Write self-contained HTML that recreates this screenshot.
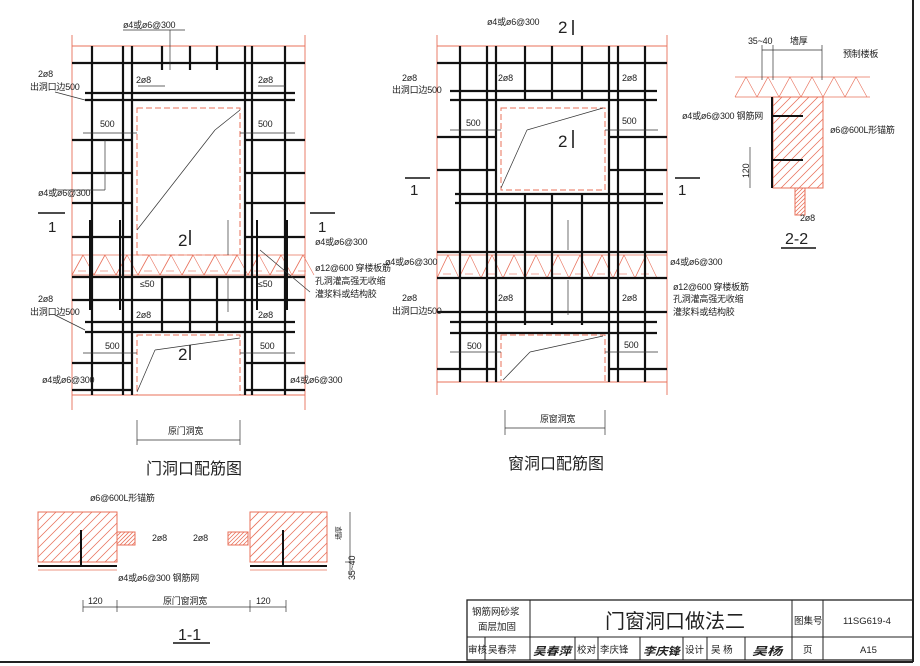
<!DOCTYPE html>
<html><head><meta charset="utf-8"><style>
html,body{margin:0;padding:0;background:#fff;}
svg{display:block;}
text{font-family:"Liberation Sans","Noto Sans CJK SC",sans-serif;fill:#222;}
.s{font-size:9px;letter-spacing:-0.2px;}
</style></head><body>
<svg id="d" width="920" height="666" viewBox="0 0 920 666" xmlns="http://www.w3.org/2000/svg">
<rect width="920" height="666" fill="#fff"/>
<g id="g"></g>
<g class="s">
<text x="123" y="28">ø4或ø6@300</text>
<text x="38" y="77">2ø8</text><text x="30" y="90">出洞口边500</text>
<text x="136" y="83">2ø8</text><text x="258" y="83">2ø8</text>
<text x="100" y="127">500</text><text x="258" y="127">500</text>
<text x="38" y="196">ø4或ø6@300</text>
<text x="315" y="245">ø4或ø6@300</text>
<text x="315" y="271">ø12@600 穿楼板筋</text>
<text x="315" y="284">孔洞灌高强无收缩</text>
<text x="315" y="297">灌浆料或结构胶</text>
<text x="140" y="287">≤50</text><text x="258" y="287">≤50</text>
<text x="38" y="302">2ø8</text><text x="30" y="315">出洞口边500</text>
<text x="136" y="318">2ø8</text><text x="258" y="318">2ø8</text>
<text x="105" y="349">500</text><text x="260" y="349">500</text>
<text x="42" y="383">ø4或ø6@300</text><text x="290" y="383">ø4或ø6@300</text>
<text x="168" y="434">原门洞宽</text>
</g>
<text x="146" y="474" style="font-size:16px">门洞口配筋图</text>
<text x="48" y="232" style="font-size:15px">1</text><text x="318" y="232" style="font-size:15px">1</text>
<text x="178" y="246" style="font-size:17px">2</text><text x="178" y="360" style="font-size:17px">2</text>
<g class="s">
<text x="487" y="25">ø4或ø6@300</text>
<text x="402" y="81">2ø8</text><text x="392" y="93">出洞口边500</text>
<text x="498" y="81">2ø8</text><text x="622" y="81">2ø8</text>
<text x="466" y="126">500</text><text x="622" y="124">500</text>
<text x="385" y="265">ø4或ø6@300</text><text x="670" y="265">ø4或ø6@300</text>
<text x="673" y="290">ø12@600 穿楼板筋</text>
<text x="673" y="302">孔洞灌高强无收缩</text>
<text x="673" y="315">灌浆料或结构胶</text>
<text x="402" y="301">2ø8</text><text x="392" y="314">出洞口边500</text>
<text x="498" y="301">2ø8</text><text x="622" y="301">2ø8</text>
<text x="467" y="349">500</text><text x="624" y="348">500</text>
<text x="540" y="422">原窗洞宽</text>
</g>
<text x="508" y="469" style="font-size:16px">窗洞口配筋图</text>
<text x="410" y="195" style="font-size:15px">1</text><text x="678" y="195" style="font-size:15px">1</text>
<text x="558" y="33" style="font-size:17px">2</text><text x="558" y="147" style="font-size:17px">2</text>
<g class="s">
<text x="748" y="44">35~40</text><text x="790" y="44">墙厚</text>
<text x="843" y="57">预制楼板</text>
<text x="682" y="119">ø4或ø6@300 钢筋网</text>
<text x="830" y="133">ø6@600L形锚筋</text>
<text x="800" y="221">2ø8</text>
<text x="0" y="0" transform="translate(749,178) rotate(-90)">120</text>
</g>
<text x="785" y="244" style="font-size:16px">2-2</text>
<g class="s">
<text x="90" y="501">ø6@600L形锚筋</text>
<text x="152" y="541">2ø8</text><text x="193" y="541">2ø8</text>
<text x="118" y="581">ø4或ø6@300 钢筋网</text>
<text x="88" y="604">120</text><text x="163" y="604">原门窗洞宽</text><text x="256" y="604">120</text>
<text x="0" y="0" transform="translate(355,580) rotate(-90)">35~40</text>
<text x="0" y="0" transform="translate(341,540) rotate(-90)" style="font-size:7px">墙厚</text>
</g>
<text x="178" y="640" style="font-size:16px">1-1</text>
<g stroke="#222" fill="none">
<rect x="467" y="600" width="446" height="60" stroke-width="1.3"/>
<line x1="467" y1="637" x2="913" y2="637"/>
<line x1="530" y1="600" x2="530" y2="660"/>
<line x1="792" y1="600" x2="792" y2="660"/>
<line x1="823" y1="600" x2="823" y2="660"/>
<line x1="485" y1="637" x2="485" y2="660"/>
<line x1="575" y1="637" x2="575" y2="660"/>
<line x1="598" y1="637" x2="598" y2="660"/>
<line x1="640" y1="637" x2="640" y2="660"/>
<line x1="683" y1="637" x2="683" y2="660"/>
<line x1="707" y1="637" x2="707" y2="660"/>
<line x1="745" y1="637" x2="745" y2="660"/>
<line x1="913" y1="0" x2="913" y2="662" stroke-width="2"/>
<line x1="0" y1="662" x2="913" y2="662" stroke-width="2"/>
</g>
<g style="font-size:9.5px">
<text x="472" y="615">钢筋网砂浆</text><text x="478" y="630">面层加固</text>
<text x="794" y="624">图集号</text><text x="843" y="624">11SG619-4</text>
<text x="468" y="653">审核</text><text x="488" y="653">吴春萍</text>
<text x="577" y="653">校对</text><text x="600" y="653">李庆锋</text>
<text x="685" y="653">设计</text><text x="711" y="653">吴 杨</text>
<text x="803" y="653">页</text><text x="860" y="653">A15</text>
</g>
<text x="605" y="628" style="font-size:20px">门窗洞口做法二</text>
<g style="font-size:11px;font-weight:bold;font-style:italic">
<text x="533" y="655" textLength="38" lengthAdjust="spacingAndGlyphs">吴春萍</text>
<text x="643" y="655" textLength="37" lengthAdjust="spacingAndGlyphs">李庆锋</text>
<text x="752" y="655" textLength="30" lengthAdjust="spacingAndGlyphs">吴杨</text>
</g>
</svg>
<script>
var g=document.getElementById('g'),NS='http://www.w3.org/2000/svg';
function L(x1,y1,x2,y2,c,w,da){var e=document.createElementNS(NS,'line');e.setAttribute('x1',x1);e.setAttribute('y1',y1);e.setAttribute('x2',x2);e.setAttribute('y2',y2);e.setAttribute('stroke',c||'#111');e.setAttribute('stroke-width',w||2.2);if(da)e.setAttribute('stroke-dasharray',da);g.appendChild(e);}
function R(x,y,w,h,f,s){var e=document.createElementNS(NS,'rect');e.setAttribute('x',x);e.setAttribute('y',y);e.setAttribute('width',w);e.setAttribute('height',h);e.setAttribute('fill',f||'none');e.setAttribute('stroke',s||'none');g.appendChild(e);}
var red='#e8705a';
function hatch(x1,y1,x2,y2,step){for(var x=x1-(y2-y1);x<x2;x+=step){var a=Math.max(x,x1),ya=y2-(a-x);var b=Math.min(x+(y2-y1),x2),yb=y2-(b-x);if(b>a)L(a,ya,b,yb,red,0.8);}}
function band(x1,x2,y1,y2){L(x1,y1,x2,y1,red,0.8);L(x1,y2,x2,y2,red,0.8);for(var x=x1;x<x2-10;x+=22){L(x,y2,x+11,y1,red,0.8);L(x+11,y1,x+22,y2,red,0.6);L(x+6,y2-4,x+14,y2-4,red,0.6);}}
function thin(a,b,c,d){L(a,b,c,d,'#333',0.7);}
L(72,46,305,46,red,0.9);L(72,395,305,395,red,0.9);L(72,35,72,410,red,0.9);L(305,35,305,410,red,0.9);
R(137,108,103,147,'none',red);g.lastChild.setAttribute('stroke-dasharray','6,3');
R(137,335,103,60,'none',red);g.lastChild.setAttribute('stroke-dasharray','6,3');
band(72,305,255,275);
[92,123,132,245,252,285].forEach(function(x){L(x,46,x,395);});
[162,190,217].forEach(function(x){L(x,46,x,70);L(x,277,x,332);});
L(72,63,305,63);L(85,93,295,93);L(85,100,295,100);
[140,173,203,237,363,390].forEach(function(y){L(72,y,132,y);L(245,y,305,y);});
L(72,277,305,277);L(72,300,305,300);L(85,322,295,322);L(85,332,295,332);
L(90,220,90,310,'#111',2);L(120,220,120,310,'#111',2);L(257,220,257,310,'#111',2);L(287,220,287,310,'#111',2);
thin(137,230,215,130);thin(215,130,240,110);thin(137,392,155,350);thin(155,350,240,338);
thin(52,190,105,190);thin(105,190,105,140);thin(170,30,170,70);thin(123,30,185,30);
thin(137,440,240,440);thin(137,420,137,445);thin(240,420,240,445);
L(38,213,65,213,'#111',1.5);L(310,213,335,213,'#111',1.5);L(190,230,190,245,'#111',1.5);L(190,345,190,360,'#111',1.5);
thin(83,133,137,133);thin(240,133,295,133);thin(83,353,137,353);thin(240,353,295,353);
thin(228,220,228,255);thin(228,278,228,312);thin(260,250,310,292);
thin(55,92,85,100);thin(55,315,85,330);thin(138,86,165,86);thin(258,86,285,86);
L(437,46,667,46,red,0.9);L(437,382,667,382,red,0.9);L(437,35,437,395,red,0.9);L(667,35,667,395,red,0.9);
R(501,108,104,82,'none',red);g.lastChild.setAttribute('stroke-dasharray','6,3');
R(501,335,104,47,'none',red);g.lastChild.setAttribute('stroke-dasharray','6,3');
band(437,667,255,278);
[460,487,496,609,618,645].forEach(function(x){L(x,46,x,382);});
[525,552,582].forEach(function(x){L(x,46,x,100);L(x,194,x,325);});
L(437,63,667,63);L(450,91,657,91);L(450,100,657,100);
[137,170,369].forEach(function(y){L(437,y,496,y);L(609,y,667,y);});
L(455,194,663,194);L(455,203,663,203);L(437,252,667,252);L(437,278,667,278);
L(437,312,667,312);L(450,322,657,322);L(450,333,657,333);
thin(501,188,527,130);thin(527,130,603,108);thin(503,380,530,352);thin(530,352,603,336);
thin(505,428,605,428);thin(505,410,505,435);thin(605,410,605,435);
L(405,178,430,178,'#111',1.5);L(675,178,700,178,'#111',1.5);L(573,20,573,35,'#111',1.5);L(573,130,573,148,'#111',1.5);
thin(450,130,501,130);thin(605,130,658,130);thin(450,352,501,352);thin(605,352,658,352);
thin(568,220,568,250);thin(568,280,568,315);
L(735,77,870,77,red,0.8);L(735,97,870,97,red,0.8);
for(var x=735;x<860;x+=22){L(x,97,x+11,77,red,0.7);L(x+11,77,x+22,97,red,0.6);}
R(773,97,50,91,'none',red);hatch(773,97,823,188,9);
L(772,97,772,188,'#111',2);L(772,116,803,116,'#111',2);L(772,160,803,160,'#111',2);
R(795,188,10,27,'none',red);hatch(795,188,805,215,4);
thin(762,50,822,50);thin(762,45,762,80);thin(773,45,773,80);thin(822,45,822,80);thin(750,147,750,188);
L(781,248,816,248,'#111',1.5);
R(38,512,79,50,'none',red);hatch(38,512,117,562,9);
R(250,512,77,50,'none',red);hatch(250,512,327,562,9);
R(117,532,18,13,'none',red);hatch(117,532,135,545,4);R(228,532,20,13,'none',red);hatch(228,532,248,545,4);
L(38,566,117,566,'#111',2);L(250,566,327,566,'#111',2);
L(81,530,81,566,'#111',2);L(283,530,283,566,'#111',2);
L(38,570,117,570,red,0.7);L(250,570,327,570,red,0.7);
thin(83,607,286,607);[83,117,250,286].forEach(function(x){thin(x,600,x,612);});
thin(350,512,350,575);thin(345,562,355,562);
L(173,643,210,643,'#111',1.5);
</script>
</body></html>
